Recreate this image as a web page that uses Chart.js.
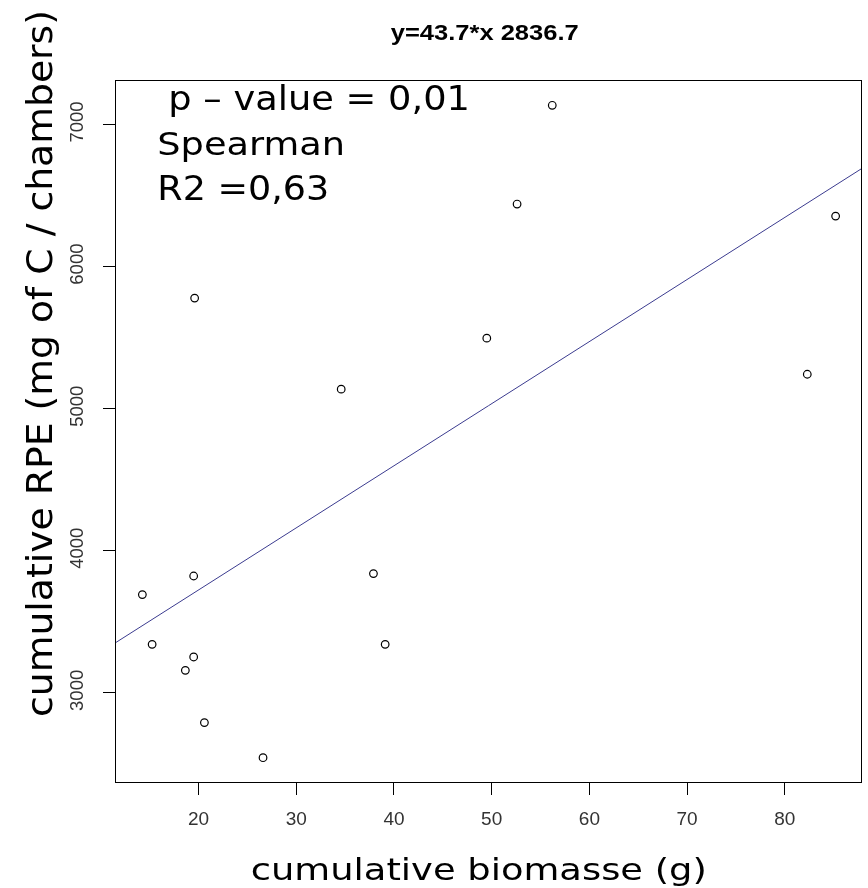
<!DOCTYPE html>
<html>
<head>
<meta charset="utf-8">
<script src="https://cdn.jsdelivr.net/npm/chart.js@4/dist/chart.umd.min.js"></script>
<style>
  html, body { margin: 0; padding: 0; background: #ffffff; }
  #wrap { width: 868px; height: 888px; }
</style>
</head>
<body>
<div id="wrap"><canvas id="c" width="868" height="888"></canvas></div>
<script>
// ---- data ----
const biomass = [56.2, 52.6, 85.2, 49.5, 82.3, 19.6, 34.6, 14.25, 19.5, 15.25, 19.5, 18.65, 20.6, 26.6, 37.9, 39.1];
const rpe     = [7132, 6437, 6352, 5493, 5239, 5775, 5134, 3688, 3819, 3338, 3249, 3155, 2787, 2540, 3836, 3338];
const fitX = [11.45, 87.9];
const fitY = [3347, 6688];
const xTickValues = [20, 30, 40, 50, 60, 70, 80];
const yTickValues = [3000, 4000, 5000, 6000, 7000];
const titleText = "y=43.7*x 2836.7";
const xLabel = "cumulative biomasse (g)";
const yLabel = "cumulative RPE (mg of C / chambers)";
const noteLines = ["p \u2013 value = 0,01", "Spearman", "R2 =0,63"];

const pts = biomass.map((x, i) => ({ x: x, y: rpe[i] }));
const fitPts = fitX.map((x, i) => ({ x: x, y: fitY[i] }));

function fitText(ctx, text, x, y, size, family, weight, targetWidth, measureText) {
  ctx.save();
  ctx.font = (weight ? weight + ' ' : '') + size + 'px ' + family;
  const w = ctx.measureText(measureText || text).width;
  const sx = targetWidth / w;
  ctx.translate(x, y);
  ctx.scale(sx, 1);
  ctx.textAlign = 'left';
  ctx.textBaseline = 'alphabetic';
  ctx.fillText(text, 0, 0);
  ctx.restore();
}

const decor = {
  id: 'decor',
  afterDraw(chart) {
    const ctx = chart.ctx;
    const a = chart.chartArea;
    ctx.save();
    // plot box
    ctx.strokeStyle = '#000';
    ctx.lineWidth = 1;
    ctx.strokeRect(Math.round(a.left) + 0.5, Math.round(a.top) + 0.5,
                   Math.round(a.right - a.left) - 1, Math.round(a.bottom - a.top) - 1);
    ctx.fillStyle = '#000';
    // title
    fitText(ctx, titleText, 390.7, 39.5, 22, '"Liberation Sans", Arial, sans-serif', 'bold', 188);
    // annotation
    const fam = '"DejaVu Sans", sans-serif';
    fitText(ctx, noteLines[0], 168.3, 110, 33, fam, '', 301.7);
    fitText(ctx, noteLines[1], 157.3, 155, 32, fam, '', 187.7);
    fitText(ctx, noteLines[2], 157.3, 200, 33, fam, '', 172);
    // x axis title
    fitText(ctx, xLabel, 250.7, 880, 31, fam, '', 392.3, 'cumulative biomasse');
    // y axis title (rotated)
    ctx.save();
    ctx.translate(51.5, 717);
    ctx.rotate(-Math.PI / 2);
    ctx.font = '35px ' + fam;
    const w = ctx.measureText(yLabel).width;
    ctx.scale(707 / w, 1);
    ctx.textAlign = 'left';
    ctx.textBaseline = 'alphabetic';
    ctx.fillText(yLabel, 0, 0);
    ctx.restore();
    // y tick labels (rotated) from the library's y scale
    const ys = chart.scales.y;
    ctx.fillStyle = '#333';
    ctx.font = '18.5px "Liberation Sans", Arial, sans-serif';
    ys.ticks.forEach(t => {
      const py = ys.getPixelForValue(t.value);
      ctx.save();
      ctx.translate(82.5, py - 2);
      ctx.rotate(-Math.PI / 2);
      ctx.textAlign = 'center';
      ctx.textBaseline = 'alphabetic';
      ctx.fillText(String(t.value), 0, 0);
      ctx.restore();
    });
    ctx.restore();
  }
};

new Chart(document.getElementById('c'), {
  type: 'scatter',
  data: {
    datasets: [
      {
        label: 'fit',
        type: 'line',
        data: fitPts,
        borderColor: '#3b3b8f',
        borderWidth: 1,
        pointRadius: 0,
        fill: false,
        tension: 0,
        order: 2
      },
      {
        label: 'obs',
        data: pts,
        pointStyle: 'circle',
        pointRadius: 3.8,
        pointBorderWidth: 1.2,
        borderColor: '#000',
        backgroundColor: 'rgba(255,255,255,0)',
        order: 1
      }
    ]
  },
  options: {
    responsive: false,
    animation: false,
    devicePixelRatio: 1,
    layout: { padding: { left: 0, right: 6, top: 80, bottom: 0 } },
    plugins: { legend: { display: false }, tooltip: { enabled: false }, title: { display: false } },
    scales: {
      x: {
        type: 'linear',
        min: 11.45,
        max: 87.9,
        afterBuildTicks: s => { s.ticks = xTickValues.map(v => ({ value: v })); },
        afterFit: s => { s.height = 105; },
        border: { display: false },
        grid: { display: true, drawOnChartArea: false, drawTicks: true, tickLength: 12, color: '#000', lineWidth: 1 },
        ticks: {
          color: '#333',
          font: { family: '"Liberation Sans", Arial, sans-serif', size: 19 },
          padding: 13,
          maxRotation: 0,
          autoSkip: false
        }
      },
      y: {
        type: 'linear',
        min: 2362,
        max: 7310,
        afterBuildTicks: s => { s.ticks = yTickValues.map(v => ({ value: v })); },
        afterFit: s => { s.width = 115; },
        border: { display: false },
        grid: { display: true, drawOnChartArea: false, drawTicks: true, tickLength: 12, color: '#000', lineWidth: 1 },
        ticks: { display: false }
      }
    }
  },
  plugins: [decor]
});
</script>
</body>
</html>
